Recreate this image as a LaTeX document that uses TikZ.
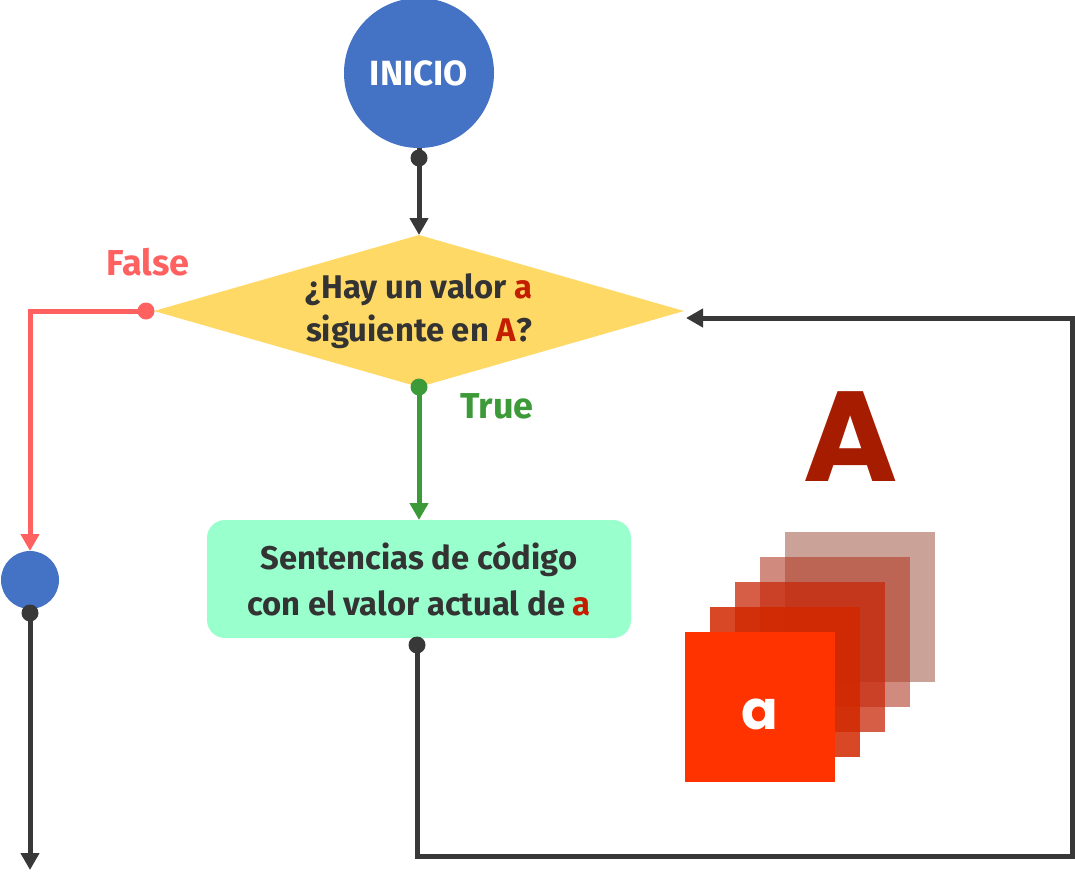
\documentclass[tikz,border=0pt]{standalone}
\usepackage{fontspec}
\setmainfont{Fira Sans}
\newfontfamily\geofont{Poppins}
\usetikzlibrary{positioning,shapes.geometric,arrows.meta}
\definecolor{fcblue}{HTML}{4472C4}
\definecolor{fcyellow}{HTML}{FFD966}
\definecolor{fcmint}{HTML}{99FFCC}
\definecolor{fcdark}{HTML}{383838}
\definecolor{fctext}{HTML}{333333}
\definecolor{fcfalse}{HTML}{FF6060}
\definecolor{fctrue}{HTML}{3D9A38}
\definecolor{fcred}{HTML}{C41E00}
\definecolor{fcbig}{HTML}{A61C00}
\definecolor{sheetfront}{HTML}{FF3300}
\definecolor{sheettwo}{RGB}{210,40,0}
\definecolor{sheetthree}{RGB}{200,40,10}
\definecolor{sheetfour}{RGB}{178,60,40}
\definecolor{sheetfive}{RGB}{150,70,50}
\tikzset{every picture/.style={line width=2.5pt}}
\tikzset{
  fcterm/.style ={circle, fill=fcblue, text=white, inner sep=0pt, outer sep=0pt,
                  font=\bfseries\fontsize{17.5}{20}\selectfont},
  fccond/.style ={diamond, aspect=3.49, fill=fcyellow, minimum width=265pt, minimum height=76pt,
                  inner sep=-6pt, outer sep=0pt, align=center, text=fctext,
                  font=\bfseries\fontsize{16.4}{21.5}\selectfont},
  fcproc/.style ={rectangle, rounded corners=9pt, fill=fcmint, minimum width=212pt,
                  minimum height=59pt, outer sep=0pt, align=center, text=fctext,
                  font=\bfseries\fontsize{16.4}{23}\selectfont},
  fcdot/.style  ={circle, fill=fcdark, minimum size=8.5pt, inner sep=0pt},
  fcedge/.style ={-{Triangle[length=8.5pt,width=9pt]}, draw=fcdark, line width=2.5pt},
  fclabel/.style={font=\bfseries\fontsize{18}{21}\selectfont},
  fcsheet/.style={minimum size=75pt, inner sep=0pt, outer sep=0pt, anchor=north west},
}
\begin{document}
\begin{tikzpicture}[x=0.5pt, y=-0.5pt]
    \useasboundingbox (0,0) rectangle (1075,890);
    % flowchart nodes
    \node[fcterm, minimum size=75pt] (start) at (419,73) {INICIO};
    \node[fccond] (cond) at (419,311) {¿Hay un valor \textcolor{fcred}{a}\\siguiente en \textcolor{fcred}{A}?};
    \node[fcproc] (body) at (419,579) {Sentencias de código\\con el valor actual de \textcolor{fcred}{a}};
    \node[fcterm, minimum size=29pt] (stop) at (30,580) {};
    % the collection A and its items
    \node[text=fcbig, font=\geofont\bfseries\fontsize{64}{70}\selectfont] (setA) at (851,437) {A};
    \node[fcsheet, fill=sheetfive, fill opacity=0.5] (sheet5) at (785,532) {};
    \node[fcsheet, fill=sheetfour, fill opacity=0.6] (sheet4) at (760,557) {};
    \node[fcsheet, fill=sheetthree, fill opacity=0.75] (sheet3) at (735,582) {};
    \node[fcsheet, fill=sheettwo, fill opacity=0.85] (sheet2) at (710,607) {};
    \node[fcsheet, fill=sheetfront, text=white, font=\geofont\bfseries\fontsize{27}{30}\selectfont] (sheet1) at (685,632) {\raisebox{0pt}[\dimexpr\height+7pt\relax][0pt]{a}};
    % connector ends
    \coordinate (loopcorner) at (1072,856);
    \coordinate (loopin) at (686,318);
    \coordinate (exit) at (30,870);
    % connectors
    \draw[fcedge] (start.south) -- (cond.north);
    \draw[fcedge, draw=fcfalse] (cond.west) -| (stop.north);
    \draw[fcedge, draw=fctrue] (cond.south) -- (body.north);
    \draw[fcedge] (body.south) ++(-2,7) |- (loopcorner) |- (loopin);
    \draw[fcedge] (stop.south) -- (exit);
    \node[fcdot] (d1) at ([yshift=-5]start.south) {};
    \node[fcdot, fill=fcfalse] (d2) at ([xshift=-4]cond.west) {};
    \node[fcdot, fill=fctrue] (d3) at (cond.south) {};
    \node[fcdot] (d4) at ([shift={(-2,7)}]body.south) {};
    \node[fcdot] (d5) at ([yshift=-2]stop.south) {};
    % branch labels
    \node[fclabel, text=fcfalse] (lfalse) at (148,262) {False};
    \node[fclabel, text=fctrue] (ltrue) at (497,406) {True};
\end{tikzpicture}
\end{document}
